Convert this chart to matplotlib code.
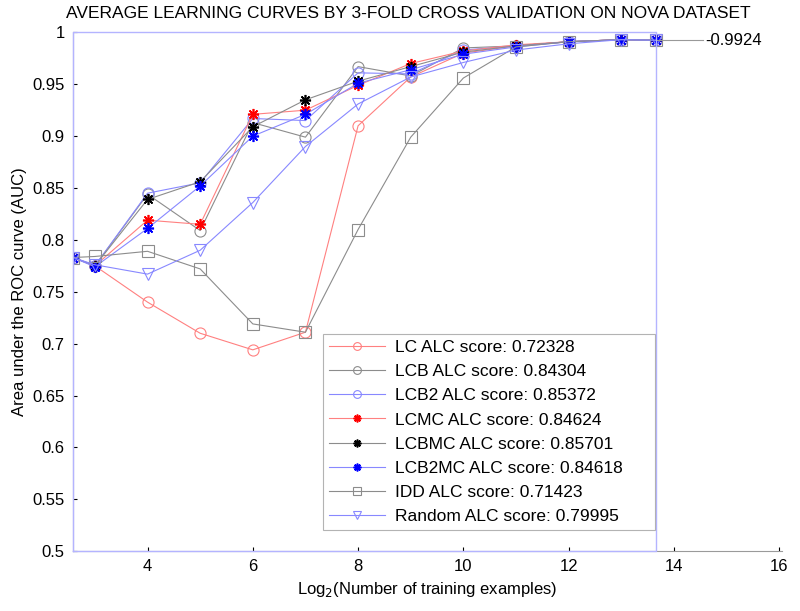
import numpy as np
import matplotlib

matplotlib.use("Agg")
import matplotlib.pyplot as plt
from matplotlib.lines import Line2D

plt.rcParams["font.family"] = ["Liberation Sans", "DejaVu Sans"]

# training-set sizes used for the learning curves (x axis is log2 of these)
n_train = [6, 8, 16, 32, 64, 128, 256, 512, 1024, 2048, 4096, 8192, 12977]

lc = [0.783, 0.775, 0.740, 0.710, 0.694, 0.711, 0.910, 0.957, 0.980, 0.987, 0.991, 0.993, 0.9924]
lcb = [0.783, 0.775, 0.844, 0.809, 0.913, 0.899, 0.967, 0.958, 0.985, 0.987, 0.991, 0.993, 0.9924]
lcb2 = [0.783, 0.775, 0.845, 0.855, 0.917, 0.915, 0.961, 0.960, 0.983, 0.987, 0.991, 0.993, 0.9924]
lcmc = [0.783, 0.775, 0.819, 0.815, 0.921, 0.925, 0.949, 0.970, 0.982, 0.988, 0.991, 0.993, 0.9924]
lcbmc = [0.783, 0.775, 0.839, 0.856, 0.909, 0.935, 0.953, 0.967, 0.981, 0.987, 0.991, 0.993, 0.9924]
lcb2mc = [0.783, 0.774, 0.811, 0.852, 0.900, 0.921, 0.951, 0.964, 0.979, 0.986, 0.991, 0.993, 0.9924]
idd = [0.783, 0.784, 0.789, 0.772, 0.719, 0.711, 0.810, 0.899, 0.956, 0.986, 0.991, 0.993, 0.9924]
rand = [0.783, 0.776, 0.767, 0.790, 0.836, 0.890, 0.931, 0.957, 0.971, 0.983, 0.989, 0.993, 0.9924]

names = ["LC", "LCB", "LCB2", "LCMC", "LCBMC", "LCB2MC", "IDD", "Random"]
alc = [0.72328, 0.84304, 0.85372, 0.84624, 0.85701, 0.84618, 0.71423, 0.79995]
final_auc = 0.9924

RED, GRAY, BLUE = "#ff8080", "#8c8c8c", "#8888ff"
STAR = (8, 2, 0)
# (line colour, marker, marker edge colour)
styles = [
    (RED, "o", RED),
    (GRAY, "o", GRAY),
    (BLUE, "o", BLUE),
    (RED, STAR, "red"),
    (GRAY, STAR, "black"),
    (BLUE, STAR, "blue"),
    (GRAY, "s", GRAY),
    (BLUE, "v", BLUE),
]

x = np.log2(n_train)
series = [lc, lcb, lcb2, lcmc, lcbmc, lcb2mc, idd, rand]

fig = plt.figure(figsize=(8.0, 6.11), dpi=100)
ax = fig.add_axes([0.0913, 0.098, 0.886, 0.849])

handles = []
for name, score, ys, (lcol, mk, mcol) in zip(names, alc, series, styles):
    is_star = not isinstance(mk, str)
    kw = dict(color=lcol, lw=0.8, marker=mk, markeredgecolor=mcol,
              markerfacecolor="none", markersize=8,
              markeredgewidth=1.2 if is_star else 0.8)
    ax.plot(x, ys, **kw)
    handles.append(Line2D([], [], **kw, label=f"{name} ALC score: {score:.5f}"))

# frame around the area under the learning curve region
x0, x1 = x[0], x[-1]
ax.plot([x0, x1, x1, x0, x0], [0.5, 0.5, 1.0, 1.0, 0.5], color="#b4b4ff",
        lw=1.0, clip_on=False, zorder=5)

# final AUC pointer
ax.plot([x1, 14.55], [final_auc, final_auc], color="#999999", lw=0.8, clip_on=False)
ax.text(14.6, final_auc, f"-{final_auc:.4f}", fontsize=12, va="center", ha="left")

ax.set_xlim(np.log2(6), 16.05)
ax.set_ylim(0.5, 1.0)
ax.set_xticks([4, 6, 8, 10, 12, 14, 16])
yt = np.round(np.arange(0.5, 1.0001, 0.05), 2)
ax.set_yticks(yt)
ax.set_yticklabels([f"{v:g}" for v in yt])
ax.tick_params(direction="in", length=3, labelsize=12, color="black", pad=6)
for side in ("top", "right"):
    ax.spines[side].set_visible(False)
for side in ("left", "bottom"):
    ax.spines[side].set_color("#9a9a9a")
    ax.spines[side].set_linewidth(0.8)

ax.set_xlabel("Log$_2$(Number of training examples)", fontsize=12, labelpad=4)
ax.set_ylabel("Area under the ROC curve (AUC)", fontsize=12, labelpad=4)
fig.text(0.51, 0.978, "AVERAGE LEARNING CURVES BY 3-FOLD CROSS VALIDATION ON NOVA DATASET",
         ha="center", va="center", fontsize=12.5)

leg = ax.legend(handles=handles, loc="lower left",
                bbox_to_anchor=(0.353, 0.04, 0.468, 0.434), mode="expand",
                fontsize=12.5, frameon=True, fancybox=False, handlelength=3.2,
                handletextpad=0.6, labelspacing=0.52, borderpad=0.35,
                borderaxespad=0.0, markerscale=0.7)
leg.get_frame().set_edgecolor("#a0a0a0")
leg.get_frame().set_linewidth(0.8)

fig.savefig("out.png", dpi=100)
